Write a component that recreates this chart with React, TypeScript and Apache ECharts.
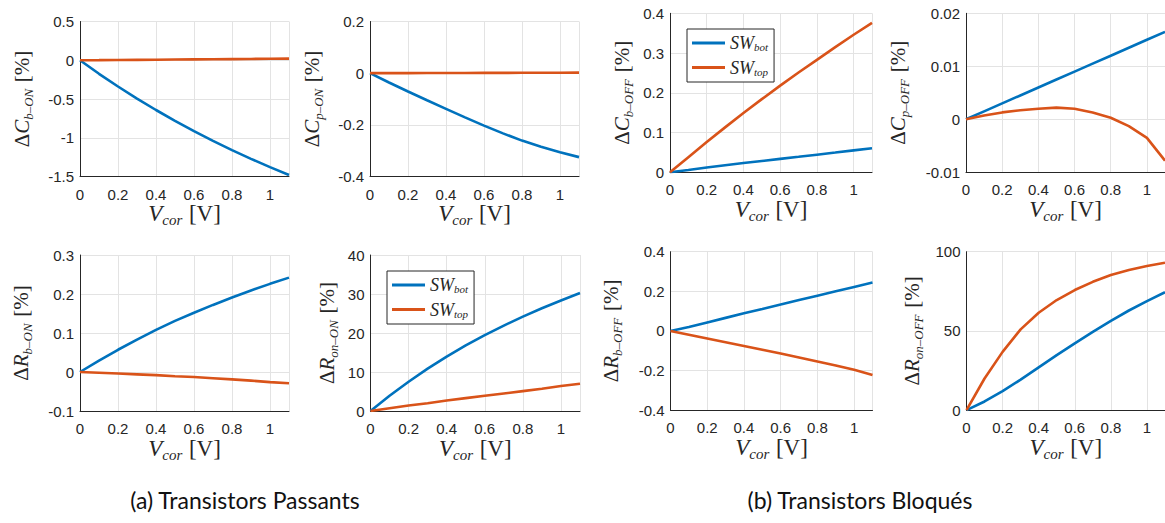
import React, { useEffect, useRef } from 'react';
import * as echarts from 'echarts';

// ---------- data ----------
const X = [0, 0.1, 0.2, 0.3, 0.4, 0.5, 0.6, 0.7, 0.8, 0.9, 1.0, 1.1];
const SERIES_NAMES = ['SW_bot', 'SW_top'];

const cbOnBot = [0, -0.175, -0.339, -0.494, -0.642, -0.781, -0.914, -1.04, -1.159, -1.272, -1.379, -1.48];
const cbOnTop = [0, 0.001, 0.003, 0.005, 0.007, 0.009, 0.011, 0.013, 0.015, 0.017, 0.019, 0.021];
const cpOnBot = [0, -0.036, -0.071, -0.105, -0.138, -0.171, -0.203, -0.233, -0.261, -0.285, -0.306, -0.325];
const cpOnTop = [0, 0, 0.0002, 0.0004, 0.0006, 0.0008, 0.001, 0.0012, 0.0014, 0.0016, 0.0018, 0.002];
const cbOffBot = [0, 0.006, 0.0122, 0.0178, 0.0232, 0.0285, 0.0338, 0.039, 0.0443, 0.0497, 0.0552, 0.0606];
const cbOffTop = [0, 0.038, 0.076, 0.113, 0.149, 0.184, 0.218, 0.251, 0.283, 0.315, 0.346, 0.376];
const cpOffBot = [0, 0.0015, 0.003, 0.0045, 0.006, 0.0075, 0.009, 0.0105, 0.012, 0.0135, 0.015, 0.0165];
const cpOffTop = [0, 0.0007, 0.0013, 0.0017, 0.002, 0.0022, 0.002, 0.0013, 0.0003, -0.0013, -0.0035, -0.0078];
const rbOnBot = [0, 0.029, 0.057, 0.083, 0.108, 0.131, 0.152, 0.172, 0.191, 0.209, 0.226, 0.242];
const rbOnTop = [0, -0.002, -0.004, -0.006, -0.008, -0.011, -0.013, -0.016, -0.019, -0.022, -0.026, -0.029];
const ronOnBot = [0, 3.9, 7.5, 10.85, 13.95, 16.8, 19.45, 21.9, 24.2, 26.35, 28.35, 30.25];
const ronOnTop = [0, 0.7, 1.4, 2.0, 2.7, 3.3, 3.9, 4.5, 5.1, 5.7, 6.4, 7.0];
const rbOffBot = [0, 0.02, 0.043, 0.066, 0.089, 0.111, 0.134, 0.156, 0.178, 0.2, 0.222, 0.244];
const rbOffTop = [0, -0.019, -0.038, -0.057, -0.076, -0.095, -0.114, -0.134, -0.154, -0.174, -0.196, -0.222];
const ronOffBot = [0, 5.5, 12, 19.3, 27, 34.7, 42.2, 49.4, 56.4, 62.9, 68.8, 74.4];
const ronOffTop = [0, 20, 36.8, 51, 61.5, 69.5, 75.8, 81, 85.3, 88.4, 91, 93];

const captions = ['(a) Transistors Passants', '(b) Transistors Bloqués'];

// ---------- layout / style ----------
const BLUE = '#0072BD';
const ORANGE = '#D95319';
const INK = '#262626';
const GRIDC = '#e3e3e3';
const SERIF = '"Liberation Serif", "DejaVu Serif", serif';
const SANS = '"Liberation Sans", Arial, sans-serif';

const panels = [
  { box: { left: 80, top: 21.5, width: 209, height: 155 }, yMin: -1.5, yMax: 0.5, yInt: 0.5, sym: 'C', sub: 'b–ON', bot: cbOnBot, top: cbOnTop, gap: 45 },
  { box: { left: 370, top: 21.5, width: 209, height: 155 }, yMin: -0.4, yMax: 0.2, yInt: 0.2, sym: 'C', sub: 'p–ON', bot: cpOnBot, top: cpOnTop, gap: 45 },
  { box: { left: 670, top: 13.3, width: 202, height: 159 }, yMin: 0, yMax: 0.4, yInt: 0.1, sym: 'C', sub: 'b–OFF', bot: cbOffBot, top: cbOffTop, gap: 35 },
  { box: { left: 966, top: 13.3, width: 202, height: 159 }, yMin: -0.01, yMax: 0.02, yInt: 0.01, sym: 'C', sub: 'p–OFF', bot: cpOffBot, top: cpOffTop, gap: 55 },
  { box: { left: 80, top: 255, width: 209, height: 156 }, yMin: -0.1, yMax: 0.3, yInt: 0.1, sym: 'R', sub: 'b–ON', bot: rbOnBot, top: rbOnTop, gap: 46 },
  { box: { left: 370.5, top: 255, width: 209.5, height: 156 }, yMin: 0, yMax: 40, yInt: 10, sym: 'R', sub: 'on–ON', bot: ronOnBot, top: ronOnTop, gap: 31 },
  { box: { left: 670.5, top: 251.7, width: 202, height: 158.5 }, yMin: -0.4, yMax: 0.4, yInt: 0.2, sym: 'R', sub: 'b–OFF', bot: rbOffBot, top: rbOffTop, gap: 47 },
  { box: { left: 966.5, top: 251.7, width: 202, height: 158.5 }, yMin: 0, yMax: 100, yInt: 50, sym: 'R', sub: 'on–OFF', bot: ronOffBot, top: ronOffTop, gap: 42 },
];

const nameRich = {
  n: { fontFamily: SERIF, fontSize: 21, color: INK, lineHeight: 26 },
  i: { fontFamily: SERIF, fontSize: 21, fontStyle: 'italic', color: INK, lineHeight: 26 },
  s: { fontFamily: SERIF, fontSize: 13, fontStyle: 'italic', color: INK, lineHeight: 26, verticalAlign: 'bottom' },
  xn: { fontFamily: SERIF, fontSize: 23, color: INK, lineHeight: 28 },
  xi: { fontFamily: SERIF, fontSize: 23, fontStyle: 'italic', color: INK, lineHeight: 28 },
  xs: { fontFamily: SERIF, fontSize: 15, fontStyle: 'italic', color: INK, lineHeight: 28, verticalAlign: 'bottom' },
};

function buildOption() {
  const grid = panels.map((p) => ({ ...p.box, containLabel: false }));
  const xAxis = panels.map((p, i) => ({
    type: 'value',
    gridIndex: i,
    min: 0,
    max: 1.1,
    interval: 0.2,
    axisLine: { show: true, onZero: false, lineStyle: { color: INK, width: 1 } },
    axisTick: { show: false },
    axisLabel: { showMaxLabel: false, color: INK, fontFamily: SANS, fontSize: 15, margin: 10 },
    splitLine: { show: true, lineStyle: { color: GRIDC, width: 1 } },
    name: '{xi|V}{xs|cor}  {xn|[V]}',
    nameLocation: 'middle',
    nameGap: 23,
    nameTextStyle: { rich: nameRich },
  }));
  const yAxis = panels.map((p, i) => ({
    type: 'value',
    gridIndex: i,
    min: p.yMin,
    max: p.yMax,
    interval: p.yInt,
    axisLine: { show: true, onZero: false, lineStyle: { color: INK, width: 1 } },
    axisTick: { show: false },
    axisLabel: { color: INK, fontFamily: SANS, fontSize: 15, margin: 6 },
    splitLine: { show: true, lineStyle: { color: GRIDC, width: 1 } },
    name: `{n|Δ}{i|${p.sym}}{s|${p.sub}}  {n|[%]}`,
    nameLocation: 'middle',
    nameRotate: 90,
    nameGap: p.gap,
    nameTextStyle: { rich: nameRich },
  }));
  const series: any[] = [];
  panels.forEach((p, i) => {
    [p.bot, p.top].forEach((vals, k) => {
      series.push({
        type: 'line',
        name: SERIES_NAMES[k],
        xAxisIndex: i,
        yAxisIndex: i,
        data: X.map((x, j) => [x, vals[j]]),
        showSymbol: false,
        symbol: 'none',
        lineStyle: { color: k === 0 ? BLUE : ORANGE, width: 2.6 },
        itemStyle: { color: k === 0 ? BLUE : ORANGE },
        clip: true,
      });
    });
  });
  const legendBase = {
    orient: 'vertical',
    icon: 'rect',
    itemWidth: 33,
    itemHeight: 3,
    itemGap: 6,
    padding: [5, 6, 5, 5],
    borderColor: INK,
    borderWidth: 1,
    backgroundColor: '#ffffff',
    data: SERIES_NAMES,
    formatter: (name: string) => `{i|SW}{s|${name.split('_')[1]}}`,
    textStyle: {
      rich: {
        i: { fontFamily: SERIF, fontSize: 18, fontStyle: 'italic', color: INK, lineHeight: 19 },
        s: { fontFamily: SERIF, fontSize: 11, fontStyle: 'italic', color: INK, lineHeight: 19, verticalAlign: 'bottom' },
      },
    },
    selectedMode: false,
  };
  const legend = [
    { ...legendBase, left: 687, top: 29 },
    { ...legendBase, left: 387, top: 271 },
  ];
  const graphic = [
    { type: 'text', x: 245, y: 500, style: { text: captions[0], font: `23px Lato, ${SANS}`, fill: '#111', textAlign: 'center', textVerticalAlign: 'middle' } },
    { type: 'text', x: 860, y: 500, style: { text: captions[1], font: `23px Lato, ${SANS}`, fill: '#111', textAlign: 'center', textVerticalAlign: 'middle' } },
  ];
  return { animation: false, backgroundColor: '#ffffff', grid, xAxis, yAxis, series, legend, graphic };
}

export default function App() {
  const ref = useRef<HTMLDivElement>(null);
  useEffect(() => {
    if (!ref.current) return;
    const chart = echarts.init(ref.current, null, { renderer: 'svg' });
    chart.setOption(buildOption() as any);
    return () => chart.dispose();
  }, []);
  return <div ref={ref} style={{ position: 'absolute', left: 0, top: 0, width: 1165, height: 523 }} />;
}
